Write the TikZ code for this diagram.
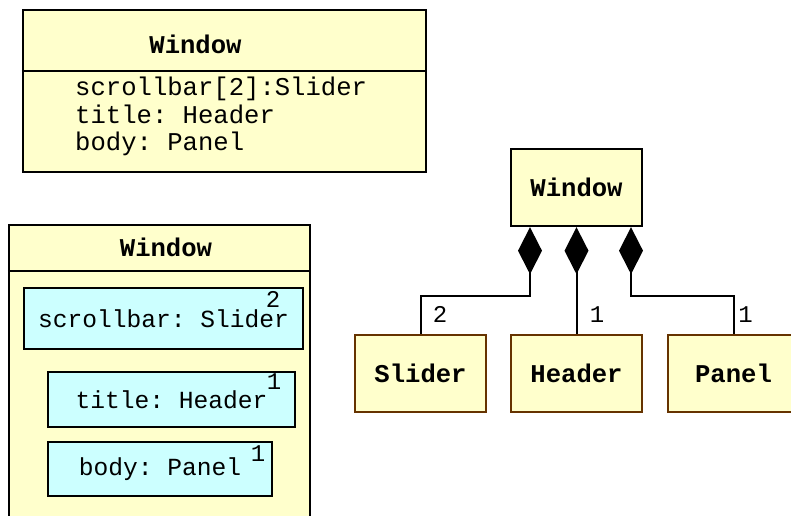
\documentclass[tikz,border=0pt]{standalone}
\usepackage{fontspec}
\setmonofont{Liberation Mono}
\usetikzlibrary{arrows.meta,positioning}
\definecolor{clsfill}{HTML}{FFFFCC}
\definecolor{partfill}{HTML}{CCFFFF}
\definecolor{leafdraw}{HTML}{663300}

\begin{document}
\begin{tikzpicture}[
  x=1pt, y=-1pt,
  cls/.style={draw, rectangle, line width=2.4pt, fill=clsfill},
  leaf/.style={draw=leafdraw, rectangle, line width=2pt, fill=clsfill,
               minimum width=131pt, minimum height=77pt,
               font=\ttfamily\bfseries\fontsize{25.6}{30}\selectfont},
  title/.style={inner sep=0pt, font=\ttfamily\bfseries\fontsize{25.6}{30}\selectfont},
  attrs/.style={inner sep=0pt, align=left, font=\ttfamily\fontsize{25.6}{27.5}\selectfont},
  part/.style={draw, rectangle, line width=2pt, fill=partfill,
               font=\ttfamily\fontsize{24.6}{28}\selectfont},
  mult/.style={inner sep=0pt, font=\ttfamily\fontsize{24}{28}\selectfont},
  comp/.style={{Diamond[length=47pt,width=24pt]}-, line width=2pt},
  sep/.style={line width=1.5pt}
]
\useasboundingbox (0,0) rectangle (791,515);

\node[cls, minimum width=403pt, minimum height=162pt] (flat) at (224.5,91) {};
\draw[sep] (flat.west |- 0,71) -- (flat.east |- 0,71);
\node[title] (flatname) at (195.5,44) {Window};
\node[attrs, anchor=west] (flatattrs) at (75,116.5)
  {scrollbar[2]:Slider\\title: Header\\body: Panel};

\node[cls, minimum width=301pt, minimum height=310pt] (nest) at (159.5,380) {};
\draw[sep] (nest.west |- 0,271) -- (nest.east |- 0,271);
\node[title] (nestname) at (166,247) {Window};
\node[part, minimum width=279pt, minimum height=61pt] (sbar) at (163.5,318.5) {scrollbar: Slider};
\node[part, minimum width=247pt, minimum height=55pt] (ttl) at (171.5,399.5) {title: Header};
\node[part, minimum width=224pt, minimum height=54pt] (bdy) at (160,469) {body: Panel};
\node[mult] (sbarm) at ([xshift=-31pt,yshift=-12pt]sbar.north east) {2};
\node[mult] (ttlm) at ([xshift=-22pt,yshift=-11pt]ttl.north east) {1};
\node[mult] (bdym) at ([xshift=-15pt,yshift=-13pt]bdy.north east) {1};

\node[cls, minimum width=131pt, minimum height=77pt,
      font=\ttfamily\bfseries\fontsize{25.6}{30}\selectfont] (whole) at (576.5,187.5) {Window};
\node[leaf, below=107pt of whole] (header) {Header};
\node[leaf, left=23pt of header] (slider) {Slider};
\node[leaf, right=24pt of header] (panel) {Panel};

\draw[comp] ([xshift=-46.5pt]whole.south) -- ++(0,69) -| (slider.north);
\draw[comp] (whole.south) -- (header.north);
\draw[comp] ([xshift=54.5pt]whole.south) -- ++(0,69) -| (panel.north);

\node[mult] (sliderm) at ([xshift=19.5pt,yshift=20pt]slider.north) {2};
\node[mult] (headerm) at ([xshift=20.5pt,yshift=20pt]header.north) {1};
\node[mult] (panelm) at ([xshift=12pt,yshift=20pt]panel.north) {1};
\end{tikzpicture}
\end{document}
